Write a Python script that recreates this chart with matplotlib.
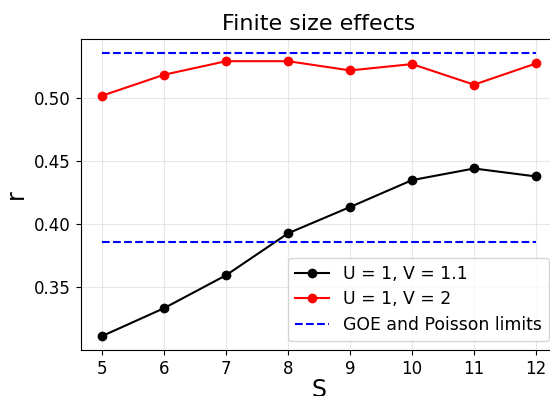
import matplotlib
matplotlib.use("Agg")
import matplotlib.pyplot as plt

S = [5, 6, 7, 8, 9, 10, 11, 12]
r_v11 = [0.3115, 0.3336, 0.3597, 0.3929, 0.4137, 0.4350, 0.4442, 0.4379]
r_v2 = [0.5019, 0.5185, 0.5292, 0.5292, 0.5219, 0.5269, 0.5106, 0.5274]
goe = 0.5359
poisson = 0.3863

fig = plt.figure(figsize=(5.5, 3.96), dpi=100)
ax = fig.add_axes([0.1464, 0.1157, 0.8676, 0.7869])

ax.plot(S, r_v11, 'o-', color='black', markersize=6, label='U = 1, V = 1.1')
ax.plot(S, r_v2, 'o-', color='red', markersize=6, label='U = 1, V = 2')
ax.plot([S[0], S[-1]], [goe, goe], '--', color='blue', label='GOE and Poisson limits')
ax.plot([S[0], S[-1]], [poisson, poisson], '--', color='blue')

ax.set_xlim(4.65, 12.35)
ax.spines['right'].set_visible(False)
ax.grid(True, alpha=0.3)
ax.set_title('Finite size effects', fontsize=16)
ax.set_xlabel('S', fontsize=17, labelpad=0)
ax.set_ylabel('r', fontsize=17)
ax.tick_params(labelsize=12)
leg = ax.legend(loc='lower right', fontsize=12.4, labelspacing=0.45,
                bbox_to_anchor=(549 / 550, (396 - 341) / 396), bbox_transform=fig.transFigure,
                borderaxespad=0)

fig.savefig('out.png', dpi=100)
